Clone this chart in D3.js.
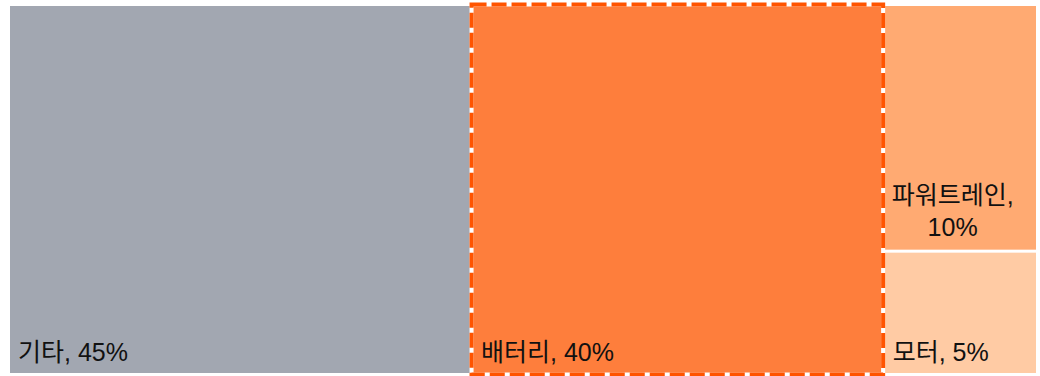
<!DOCTYPE html>
<html><head><meta charset="utf-8">
<script src="https://cdn.jsdelivr.net/npm/d3@7"></script>
<style>body{margin:0;background:#fff}svg{display:block}text{font-family:"Liberation Sans","Noto Sans CJK KR",sans-serif;}</style>
</head><body>
<svg id="c" width="1040" height="376"></svg>
<script>
const categories = ["기타", "배터리", "파워트레인", "모터"];
const values = [45, 40, 10, 5];
const colors = ["#a2a7b1", "#fe7e3c", "#ffaa72", "#ffcba4"];
const highlighted = "배터리";

const svg = d3.select("#c");
const x0 = 10, y0 = 6, x1 = 1036, y1 = 373;

const root = d3.hierarchy({children: categories.map((c, i) => ({name: c, value: values[i], color: colors[i]}))})
  .sum(d => d.value || 0);
d3.treemap().tile(d3.treemapSquarify).size([x1 - x0, y1 - y0]).paddingInner(3).round(false)(root);

const g = svg.append("g").attr("transform", `translate(${x0},${y0})`);
const leaves = root.leaves();
g.selectAll("rect.cell").data(leaves).join("rect").attr("class", "cell")
  .attr("x", d => d.x0).attr("y", d => d.y0)
  .attr("width", d => d.x1 - d.x0).attr("height", d => d.y1 - d.y0)
  .attr("fill", d => d.data.color);

const hl = leaves.find(d => d.data.name === highlighted);
const pad = 1.5;
["#ffffff", "#ff5400"].forEach((col, i) => {
  g.append("rect")
    .attr("x", hl.x0 - pad).attr("y", hl.y0 - pad)
    .attr("width", hl.x1 - hl.x0 + 2 * pad).attr("height", hl.y1 - hl.y0 + 2 * pad)
    .attr("fill", "none").attr("stroke", col).attr("stroke-width", 4)
    .attr("stroke-dasharray", i ? "15,5" : null);
});

const fs = 25, lh = 32;
leaves.forEach(d => {
  const w = d.x1 - d.x0;
  const full = `${d.data.name}, ${d.data.value}%`;
  const t = g.append("text").attr("font-size", fs).attr("fill", "#111");
  t.text(full);
  if (t.node().getComputedTextLength() + 16 < w) {
    t.attr("x", d.x0 + 8).attr("y", d.y1 - 12);
  } else {
    t.text(null);
    const lines = [`${d.data.name},`, `${d.data.value}%`];
    const tmp = g.append("text").attr("font-size", fs).text(lines[0]);
    const lw = tmp.node().getComputedTextLength();
    tmp.remove();
    const cx = d.x0 + 7 + lw / 2;
    t.attr("text-anchor", "middle");
    lines.forEach((l, i) => {
      t.append("tspan").attr("x", cx).attr("y", d.y1 - 14 - (lines.length - 1 - i) * lh).text(l);
    });
  }
});
</script>
</body></html>
